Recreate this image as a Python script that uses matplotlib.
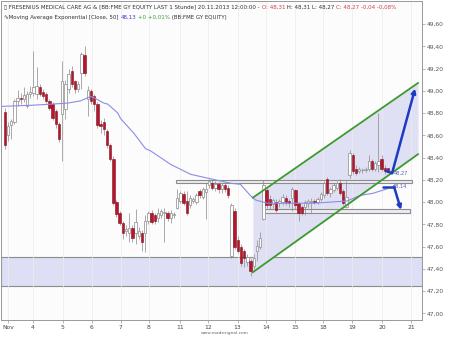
import numpy as np
import matplotlib
matplotlib.use("Agg")
import matplotlib.pyplot as plt

# hourly candles, FME, Nov 2013
opens = [48.81, 48.60, 48.69, 48.72, 48.91, 48.94, 48.93, 48.86, 48.97, 48.98,
         48.97, 49.03, 48.99, 48.97, 48.91, 48.88, 48.82, 48.70, 48.79, 48.84,
         49.02, 49.18, 49.09, 49.02, 49.16, 49.32, 48.93, 49.00, 48.95, 48.88,
         48.70, 48.72, 48.64, 48.51, 48.39, 48.00, 47.90, 47.81, 47.74, 47.72,
         47.77, 47.72, 47.70, 47.72, 47.72, 47.83, 47.90, 47.88, 47.86, 47.88,
         47.90, 47.90, 47.86, 47.88, 47.95, 48.01, 48.07, 48.01, 47.97, 48.01,
         48.00, 48.10, 48.05, 48.09, 48.15, 48.17, 48.13, 48.16, 48.12, 48.15,
         48.13, 47.52, 47.92, 47.66, 47.60, 47.56, 47.46, 47.47, 47.43, 47.56,
         47.60, 47.85, 48.11, 48.03, 47.98, 48.00, 47.99, 48.00, 48.04, 48.01,
         48.04, 48.11, 47.99, 47.96, 47.96, 47.99, 48.00, 48.01, 48.00, 48.03,
         48.06, 48.21, 48.08, 48.11, 48.13, 48.17, 48.10, 47.96, 48.24, 48.42,
         48.30, 48.28, 48.29, 48.29, 48.30, 48.37, 48.30, 48.33, 48.39, 48.31,
         48.31]
highs = [48.85, 48.72, 48.75, 48.93, 49.01, 48.98, 49.03, 49.00, 49.04, 49.36,
         49.21, 49.06, 49.02, 48.99, 48.93, 48.90, 48.84, 48.72, 49.27, 49.10,
         49.20, 49.22, 49.10, 49.09, 49.35, 49.40, 49.04, 49.02, 48.97, 48.90,
         48.74, 48.76, 48.66, 48.53, 48.41, 48.02, 47.92, 47.83, 47.79, 47.90,
         47.79, 47.94, 47.78, 47.75, 47.88, 47.92, 47.93, 47.90, 47.95, 47.94,
         47.95, 47.92, 47.93, 47.91, 48.12, 48.10, 48.10, 48.10, 48.06, 48.05,
         48.08, 48.12, 48.14, 48.17, 48.21, 48.20, 48.19, 48.18, 48.17, 48.17,
         48.15, 47.99, 47.95, 47.70, 47.62, 47.58, 47.53, 47.49, 47.53, 47.66,
         47.73, 48.20, 48.13, 48.06, 48.04, 48.03, 48.03, 48.07, 48.06, 48.03,
         48.14, 48.12, 48.00, 47.97, 48.02, 48.03, 48.04, 48.03, 48.05, 48.09,
         48.19, 48.23, 48.14, 48.17, 48.19, 48.21, 48.12, 48.19, 48.47, 48.44,
         48.33, 48.32, 48.31, 48.32, 48.42, 48.39, 48.37, 48.80, 48.42, 48.33,
         48.31]
lows = [48.48, 48.55, 48.57, 48.70, 48.86, 48.88, 48.90, 48.85, 48.94, 48.95,
        48.93, 48.95, 48.93, 48.89, 48.83, 48.74, 48.67, 48.54, 48.37, 48.75,
        48.98, 49.03, 48.98, 48.99, 49.02, 49.13, 48.77, 48.88, 48.82, 48.67,
        48.62, 48.60, 48.49, 48.37, 47.97, 47.87, 47.79, 47.67, 47.70, 47.64,
        47.64, 47.62, 47.67, 47.56, 47.55, 47.80, 47.80, 47.80, 47.82, 47.86,
        47.64, 47.83, 47.81, 47.86, 47.94, 47.99, 47.97, 47.88, 47.95, 47.99,
        47.98, 48.04, 48.03, 47.85, 48.13, 48.11, 48.10, 48.08, 48.08, 48.09,
        48.04, 47.50, 47.58, 47.54, 47.43, 47.42, 47.43, 47.34, 47.40, 47.47,
        47.58, 47.84, 47.95, 47.94, 47.95, 47.91, 47.96, 47.97, 47.97, 47.96,
        47.92, 47.94, 47.83, 47.88, 47.88, 47.96, 47.90, 47.98, 47.98, 48.01,
        48.04, 48.06, 48.05, 48.09, 48.11, 48.06, 47.97, 47.95, 48.22, 48.25,
        48.24, 48.26, 48.26, 48.27, 48.28, 48.28, 48.28, 48.27, 48.28, 48.25,
        48.27]
closes = [48.51, 48.68, 48.73, 48.91, 48.94, 48.93, 48.96, 48.97, 48.99, 49.03,
          49.04, 48.97, 48.95, 48.91, 48.85, 48.76, 48.70, 48.57, 49.09, 49.06,
          49.15, 49.06, 49.02, 49.06, 49.33, 49.16, 49.01, 48.91, 48.88, 48.69,
          48.68, 48.66, 48.51, 48.39, 47.99, 47.89, 47.81, 47.72, 47.76, 47.77,
          47.68, 47.82, 47.74, 47.64, 47.83, 47.90, 47.82, 47.83, 47.90, 47.92,
          47.91, 47.86, 47.90, 47.89, 48.04, 48.08, 47.99, 47.90, 48.04, 48.03,
          48.06, 48.06, 48.12, 48.12, 48.19, 48.13, 48.16, 48.12, 48.15, 48.12,
          48.06, 47.97, 47.60, 47.56, 47.45, 47.50, 47.51, 47.38, 47.50, 47.61,
          47.68, 48.15, 47.97, 47.97, 48.02, 47.93, 48.01, 48.05, 48.00, 47.99,
          48.12, 47.97, 47.90, 47.90, 48.00, 48.01, 48.01, 48.00, 48.03, 48.07,
          48.17, 48.08, 48.12, 48.15, 48.17, 48.08, 47.99, 48.05, 48.44, 48.28,
          48.26, 48.30, 48.29, 48.30, 48.37, 48.30, 48.35, 48.37, 48.30, 48.28,
          48.27]

# EMA(50) as drawn in the reference, sampled along the line
ema_x = [-2.2, 7.2, 13.4, 18.8, 22.8, 25.9, 27.5, 30.0, 31.3, 34.4, 35.3, 39.4,
         43.1, 44.7, 50.9, 57.2, 63.4, 69.7, 72.8, 75.9, 77.5, 81.2, 86.2, 95.6,
         100.9, 106.2, 110.3, 114.4, 118.8]
ema_y = [48.86, 48.87, 48.88, 48.89, 48.91, 48.95, 48.93, 48.89, 48.88, 48.80,
         48.75, 48.62, 48.48, 48.46, 48.34, 48.25, 48.21, 48.17, 48.16, 48.06,
         48.02, 47.99, 47.99, 47.99, 48.00, 48.01, 48.06, 48.08, 48.12]

day_pos = [0, 7.8, 17.2, 26.2, 35.3, 44.1, 53.8, 62.8, 71.9, 80.9, 90.0, 98.8,
           107.8, 117.2, 126.2]
day_labels = ['Nov', '4', '5', '6', '7', '8', '11', '12', '13', '14', '15',
              '18', '19', '20', '21']

# drawings on the chart
band = (47.25, 47.51)
upper_box = (52.5, 126.6, 48.17, 48.20)
lower_box = (80.0, 126.0, 47.90, 47.94)
chan_x = [76.7, 128.4]
chan_top = [48.04, 49.07]
chan_bot = [47.37, 48.43]
arrow_up = [(118.4, 48.28), (120.3, 48.26), (127.5, 49.02)]
arrow_dn = [(117.5, 48.14), (120.9, 48.14), (123.1, 47.93)]

fig = plt.figure(figsize=(4.5, 3.38), dpi=100)
ax = fig.add_axes([0.002, 0.053, 0.936, 0.945])
ax.set_facecolor('#fcfcfc')

x = np.arange(len(closes)) - 1
o = np.array(opens); c = np.array(closes)
up = c >= o

ax.axhspan(band[0], band[1], facecolor='#dedef5', edgecolor='#8c8c8c', lw=0.8, zorder=1)
ax.fill_between(chan_x, chan_bot, chan_top, color='#e0e0f5', zorder=1, lw=0)
for bx in (upper_box, lower_box):
    ax.add_patch(plt.Rectangle((bx[0], bx[2]), bx[1] - bx[0], bx[3] - bx[2],
                               facecolor='#ececf2', edgecolor='#8c8c8c', lw=0.8, zorder=2))

ax.vlines(x, lows, highs, color='#8a8a8a', lw=0.5, zorder=3)
ax.bar(x[up], (c - o)[up], bottom=o[up], width=0.75, color='white',
       edgecolor='#8a8a8a', lw=0.5, zorder=4)
ax.bar(x[~up], (o - c)[~up], bottom=c[~up], width=0.75, color='#b3172c',
       edgecolor='#86101f', lw=0.4, zorder=4)

ax.plot(ema_x, ema_y, color='#8c8ce6', lw=0.8, zorder=5)

ax.plot(chan_x, chan_top, color='#3d9a2e', lw=1.3, zorder=6)
ax.plot(chan_x, chan_bot, color='#3d9a2e', lw=1.3, zorder=6)

for pts in (arrow_up, arrow_dn):
    ax.plot([p[0] for p in pts[:2]], [p[1] for p in pts[:2]], color='#1d3ac4',
            lw=1.8, solid_capstyle='round', zorder=7)
    ax.annotate('', xy=pts[2], xytext=pts[1],
                arrowprops=dict(arrowstyle='-|>', color='#1d3ac4', lw=1.8,
                                shrinkA=0, shrinkB=0, mutation_scale=6), zorder=7)
ax.text(120.8, 48.245, '48,27', fontsize=3.6, color='#4a5fc0', zorder=8)
ax.text(120.5, 48.125, '48,14', fontsize=3.6, color='#4a5fc0', zorder=8)

ax.set_xlim(-2.2, 129.7)
ax.set_ylim(46.94, 49.81)
ax.yaxis.tick_right()
yt = np.arange(47.0, 49.61, 0.2)
ax.set_yticks(yt)
ax.set_yticklabels([f'{v:.2f}'.replace('.', ',') for v in yt], fontsize=4.3, color='#555555')
ax.set_xticks(day_pos)
ax.set_xticklabels(day_labels, fontsize=4.3, color='#444444')
ax.tick_params(length=2, width=0.5, color='#999999', pad=1.5)
ax.grid(axis='x', color='#ececec', lw=0.5, zorder=0)
for s in ax.spines.values():
    s.set_color('#999999')
    s.set_linewidth(0.7)

# header lines
fs = 4.0
t = ax.text(0.008, 0.972, '\u25af FRESENIUS MEDICAL CARE AG & [BB:FME GY EQUITY LAST 1 Stunde] '
            '20.11.2013 12:00:00 - ', transform=ax.transAxes, fontsize=fs, va='bottom', color='#333333')
parts = [('O: 48,31', '#d0404a'), (' H: 48,31 L: 48,27 ', '#333333'),
         ('C: 48,27 -0,04 -0,08%', '#d0404a')]
for txt, col in parts:
    t = ax.annotate(txt, xy=(1, 0), xycoords=t, fontsize=fs, va='bottom', color=col)
t = ax.text(0.008, 0.94, '\u223fMoving Average Exponential [Close, 50] ', transform=ax.transAxes,
            fontsize=fs, va='bottom', color='#333333')
parts = [('48,13', '#3b3bd0'), (' +0 +0,01%', '#35a035'), (' (BB:FME GY EQUITY)', '#333333')]
for txt, col in parts:
    t = ax.annotate(txt, xy=(1, 0), xycoords=t, fontsize=fs, va='bottom', color=col)

fig.text(0.5, 0.012, 'www.madesignal.com', fontsize=3.2, color='#666666', ha='center')

fig.savefig('out.png', dpi=100)
